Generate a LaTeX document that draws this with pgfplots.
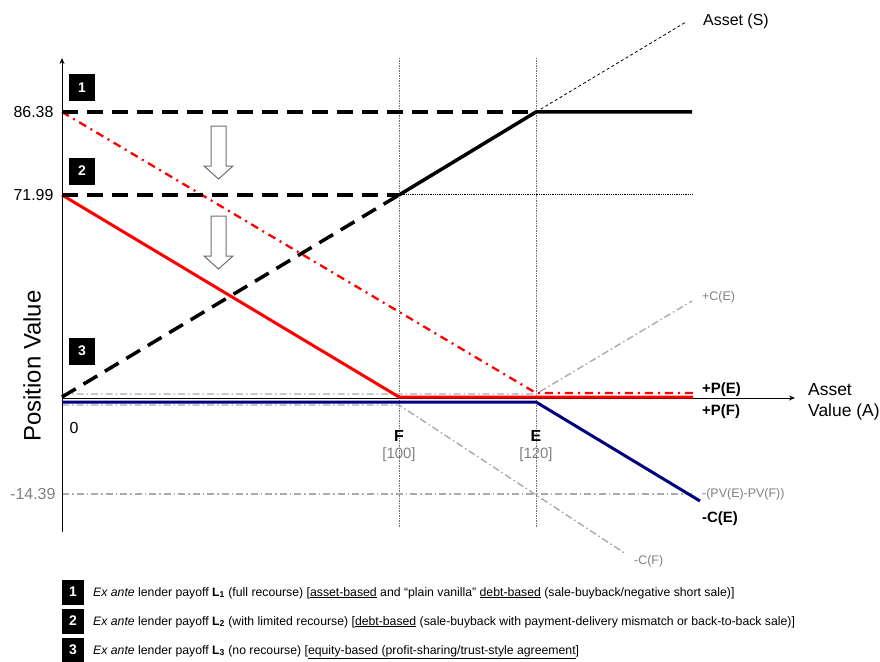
\documentclass[border=0pt]{standalone}
\usepackage{pgfplots}
\pgfplotsset{compat=1.18}
\usetikzlibrary{arrows.meta}
\usepackage{fontspec}
\setmainfont{Liberation Sans}

\definecolor{lred}{RGB}{255,0,0}
\definecolor{lnavy}{RGB}{0,0,128}
\definecolor{lgray}{RGB}{170,170,170}
\definecolor{tgray}{RGB}{128,128,128}
\definecolor{vgray}{RGB}{110,110,110}

\newcommand{\fs}[1]{\fontsize{#1}{#1}\selectfont}

\begin{document}
\begin{tikzpicture}[
    numbox/.style={fill=black, text=white, font=\fs{14}\bfseries, minimum width=25bp, minimum height=27bp, inner sep=0pt},
    keybox/.style={fill=black, text=white, font=\fs{14}\bfseries, minimum width=22bp, minimum height=25bp, inner sep=0pt},
]
\begin{axis}[
    scale only axis,
    width=880bp, height=662bp,
    xmin=0, xmax=880, ymin=0, ymax=662,
    y dir=reverse,
    hide axis, clip=false,
    gdd/.style={lgray, line width=1.4bp, dash pattern=on 7bp off 3bp on 1.5bp off 3bp},
    bdash/.style={black, line width=3.5bp, dash pattern=on 16bp off 9bp},
]
% vertical guides at F and E
\addplot[vgray, line width=0.6bp, dash pattern=on 1.5bp off 1bp] coordinates {(399,58) (399,527)};
\addplot[vgray, line width=0.6bp, dash pattern=on 1.5bp off 1bp] coordinates {(536,58) (536,527)};

% grey option payoffs
\addplot[gdd] coordinates {(62,394) (536,394) (692,301)};      % +C(E)
\addplot[gdd] coordinates {(62,405) (399,405) (626,554)};      % -C(F)
\addplot[gdd] coordinates {(62,494) (692,494)};                % -(PV(E)-PV(F))

% axes
\draw[black, line width=1bp, -{Stealth[length=6bp,width=5bp]}] (axis cs:62,532) -- (axis cs:62,58);
\draw[black, line width=1bp, -{Stealth[length=6bp,width=5bp]}] (axis cs:62,398) -- (axis cs:795,398);

% red payoffs
\addplot[lred, line width=2.3bp, dash pattern=on 8bp off 5bp on 2bp off 5bp] coordinates {(62,112) (536,393) (693,393)};
\addplot[lred, line width=3bp] coordinates {(62,195) (399,397) (693,397)};

% blue payoff
\addplot[lnavy, line width=3bp] coordinates {(62,402) (536,402) (700,501)};

% black lender payoffs
\addplot[black, line width=0.8bp, dash pattern=on 3bp off 2.5bp] coordinates {(536,112) (686,22)};
\addplot[black, line width=0.8bp, densely dotted] coordinates {(399,194) (692,194)};
\addplot[bdash] coordinates {(62,112) (536,112)};
\addplot[bdash] coordinates {(62,195) (399,195)};
\addplot[bdash] coordinates {(62,397) (399,195)};
\addplot[black, line width=3.5bp] coordinates {(399,195) (536,112) (692,112)};

% hollow arrows
\draw[vgray, line width=1bp, fill=white] (axis cs:211,126) -- (axis cs:226,126) -- (axis cs:226,166) -- (axis cs:233,166) -- (axis cs:218.5,179) -- (axis cs:204,166) -- (axis cs:211,166) -- cycle;
\draw[vgray, line width=1bp, fill=white] (axis cs:211,216) -- (axis cs:226,216) -- (axis cs:226,256) -- (axis cs:233,256) -- (axis cs:218.5,269) -- (axis cs:204,256) -- (axis cs:211,256) -- cycle;

% numbered boxes
\node[numbox] at (axis cs:82,88) {1};
\node[numbox] at (axis cs:82,171) {2};
\node[numbox] at (axis cs:82,351) {3};

% y labels
\node[anchor=east, font=\fs{16}] at (axis cs:57,112) {86.38};
\node[anchor=east, font=\fs{16}] at (axis cs:57,195) {71.99};
\node[anchor=east, font=\fs{16}, text=tgray] at (axis cs:59,494) {-14.39};
\node[font=\fs{16}] at (axis cs:74,428) {0};
\node[rotate=90, font=\fs{24}] at (axis cs:32,366) {Position Value};

% x labels
\node[font=\fs{16}\bfseries] at (axis cs:399,436) {F};
\node[font=\fs{15}, text=tgray] at (axis cs:399,455) {[100]};
\node[font=\fs{16}\bfseries] at (axis cs:536,436) {E};
\node[font=\fs{15}, text=tgray] at (axis cs:536,455) {[120]};
\node[anchor=west, font=\fs{17.5}, align=left, inner sep=0pt] at (axis cs:808,402) {Asset\\[3bp]Value (A)};

% right labels
\node[anchor=west, font=\fs{16}, inner sep=0pt] at (axis cs:703,21) {Asset (S)};
\node[anchor=west, font=\fs{12.5}, text=tgray, inner sep=0pt] at (axis cs:702,297) {+C(E)};
\node[anchor=west, font=\fs{15}\bfseries, inner sep=0pt] at (axis cs:702,390) {+P(E)};
\node[anchor=west, font=\fs{15}\bfseries, inner sep=0pt] at (axis cs:702,412) {+P(F)};
\node[anchor=west, font=\fs{12.5}, text=tgray, inner sep=0pt] at (axis cs:702,494) {-(PV(E)-PV(F))};
\node[anchor=west, font=\fs{15}\bfseries, inner sep=0pt] at (axis cs:702,519) {-C(E)};
\node[anchor=west, font=\fs{12.5}, text=tgray, inner sep=0pt] at (axis cs:634,561) {-C(F)};

% key
\node[keybox] at (axis cs:73,592) {1};
\node[keybox] at (axis cs:73,621) {2};
\node[keybox] at (axis cs:73,650) {3};
\node[anchor=base west, font=\fs{12.3}, inner sep=0pt] at (axis cs:93,596) {\textit{Ex ante} lender payoff \textbf{L\textsubscript{1}} (full recourse) [\underline{asset-based} and “plain vanilla” \underline{debt-based} (sale-buyback/negative short sale)]};
\node[anchor=base west, font=\fs{12.3}, inner sep=0pt] at (axis cs:93,625) {\textit{Ex ante} lender payoff \textbf{L\textsubscript{2}} (with limited recourse) [\underline{debt-based} (sale-buyback with payment-delivery mismatch or back-to-back sale)]};
\node[anchor=base west, font=\fs{12.3}, inner sep=0pt] at (axis cs:93,654) {\textit{Ex ante} lender payoff \textbf{L\textsubscript{3}} (no recourse) [\underline{equity-based (profit-sharing/trust-style agreement}]};
\end{axis}
\pgfresetboundingbox
\path[use as bounding box] (0,0) rectangle (880bp,662bp);
\end{tikzpicture}
\end{document}
